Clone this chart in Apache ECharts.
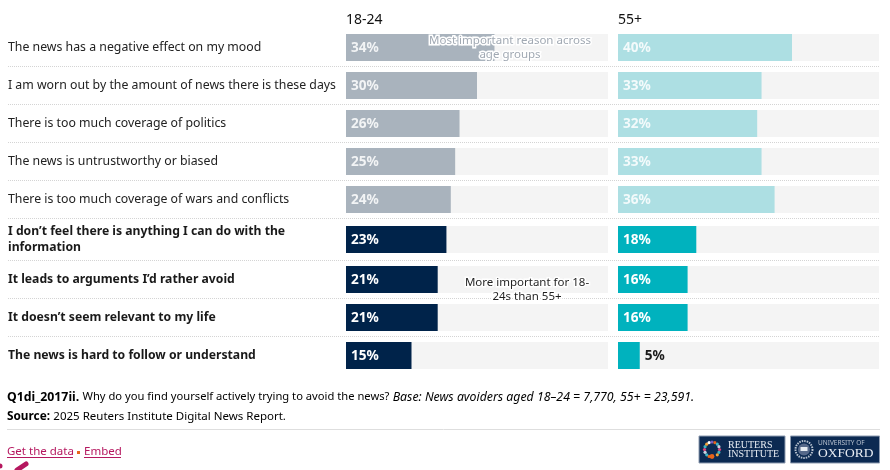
<!DOCTYPE html>
<html>
<head>
<meta charset="utf-8">
<style>html,body{margin:0;padding:0;background:#fff}#c{width:890px;height:470px}</style>
<script src="https://cdn.jsdelivr.net/npm/echarts@6/dist/echarts.min.js"></script>
</head>
<body>
<div id="c"></div>
<script>
const categories = [
  "The news has a negative effect on my mood",
  "I am worn out by the amount of news there is these days",
  "There is too much coverage of politics",
  "The news is untrustworthy or biased",
  "There is too much coverage of wars and conflicts",
  "I don’t feel there is anything I can do with the information",
  "It leads to arguments I’d rather avoid",
  "It doesn’t seem relevant to my life",
  "The news is hard to follow or understand"
];
const young = [34, 30, 26, 25, 24, 23, 21, 21, 15];
const old = [40, 33, 32, 33, 36, 18, 16, 16, 5];
const panelTitles = ["18-24", "55+"];
const axisMax = 60;

const FONT = '"Noto Sans", sans-serif';
const chart = echarts.init(document.getElementById('c'), null, {renderer: 'canvas'});

const blocks = [
  {top: 28.5, height: 190, from: 0, to: 5, strong: false},
  {top: 226, height: 27, from: 5, to: 6, strong: true},
  {top: 260.5, height: 114, from: 6, to: 9, strong: true}
];
const panels = [
  {left: 346, width: 262, values: young, faint: '#a9b3bd', solid: '#00234a', labels: true},
  {left: 618, width: 261, values: old, faint: '#addfe3', solid: '#00b2be', labels: false}
];

const grid = [], xAxis = [], yAxis = [], series = [];
panels.forEach(p => blocks.forEach(b => {
  const i = grid.length;
  grid.push({left: p.left, width: p.width, top: b.top, height: b.height, containLabel: false});
  xAxis.push({type: 'value', gridIndex: i, min: 0, max: axisMax, show: false});
  yAxis.push({
    type: 'category', gridIndex: i, inverse: true,
    data: categories.slice(b.from, b.to),
    axisLine: {show: false}, axisTick: {show: false}, splitLine: {show: false},
    axisLabel: {
      show: p.labels, interval: 0, align: 'left', margin: 338,
      lineHeight: 16, padding: [4, 0, 0, 0],
      formatter: v => v.replace(' with the information', ' with the\ninformation'),
      color: b.strong ? '#1a1a1a' : '#222',
      fontFamily: FONT, fontSize: b.strong ? 12.2 : 12.3, fontWeight: b.strong ? 700 : 400
    }
  });
  series.push({
    type: 'bar', xAxisIndex: i, yAxisIndex: i, barWidth: 27, silent: true,
    showBackground: true, backgroundStyle: {color: '#f4f4f4'},
    itemStyle: {color: b.strong ? p.solid : p.faint},
    data: p.values.slice(b.from, b.to).map(v => ({
      value: v,
      label: v < 10
        ? {position: 'right', distance: 5, color: '#1a1a1a'}
        : {position: 'insideLeft', distance: 5, color: b.strong ? '#fff' : 'rgba(255,255,255,0.85)'}
    })),
    label: {show: true, formatter: '{c}%', fontFamily: FONT, fontSize: 13.6, fontWeight: 700, offset: [0, 1]},
    animation: false
  });
}));

const g = [];
[66.5, 104.5, 142.5, 180.5, 218.5, 260.5, 298.5, 336.5].forEach(y => g.push({
  type: 'line', z: 1, shape: {x1: 8, y1: y, x2: 879, y2: y},
  style: {stroke: '#d4d4d4', lineWidth: 1, lineDash: [1, 1]}
}));
panels.forEach((p, i) => g.push({
  type: 'text', z: 10, x: p.left, y: 20,
  style: {text: panelTitles[i], font: '14px ' + FONT, fill: '#111', verticalAlign: 'middle'}
}));
[['Most important reason across', 510, 41, '#a1a9b3'], ['age groups', 510, 55, '#a1a9b3'],
 ['More important for 18-', 527, 283, '#1f1f1f'], ['24s than 55+', 527, 297, '#1f1f1f']].forEach(a => g.push({
  type: 'text', z: 50, x: a[1], y: a[2],
  style: {text: a[0], font: '11.5px ' + FONT, fill: a[3], align: 'center', verticalAlign: 'middle',
          stroke: '#fff', lineWidth: 3}
}));

const rich = {
  b: {fontFamily: FONT, fontSize: 12.3, fontWeight: 700, color: '#222'},
  c: {fontFamily: FONT, fontSize: 11.8, fontWeight: 700, color: '#222'},
  n: {fontFamily: FONT, fontSize: 11.2, color: '#444'},
  s: {fontFamily: FONT, fontSize: 11.5, color: '#444'},
  i: {fontFamily: FONT, fontSize: 12.3, fontStyle: 'italic', color: '#444'}
};
g.push({type: 'text', z: 10, x: 7, y: 397, style: {
  text: '{b|Q1di_2017ii.} {n|Why do you find yourself actively trying to avoid the news?} {i|Base: News avoiders aged 18–24 = 7,770, 55+ = 23,591.}',
  rich, verticalAlign: 'middle'}});
g.push({type: 'text', z: 10, x: 7, y: 417, style: {
  text: '{c|Source:} {s|2025 Reuters Institute Digital News Report.}', rich, verticalAlign: 'middle'}});
g.push({type: 'line', z: 1, shape: {x1: 7, y1: 429.5, x2: 880, y2: 429.5}, style: {stroke: '#dedede', lineWidth: 1}});

const linkColor = '#b5175f';
g.push({type: 'text', z: 10, x: 7, y: 452, style: {text: 'Get the data', font: '11.5px ' + FONT, fill: linkColor, verticalAlign: 'middle'}});
g.push({type: 'text', z: 10, x: 84, y: 452, style: {text: 'Embed', font: '11.5px ' + FONT, fill: linkColor, verticalAlign: 'middle'}});
g.push({type: 'line', z: 10, shape: {x1: 7, y1: 457.5, x2: 73, y2: 457.5}, style: {stroke: linkColor, lineWidth: 1}});
g.push({type: 'line', z: 10, shape: {x1: 84, y1: 457.5, x2: 121, y2: 457.5}, style: {stroke: linkColor, lineWidth: 1}});
g.push({type: 'rect', z: 10, shape: {x: 77, y: 451, width: 3, height: 3}, style: {fill: '#e8641b'}});
g.push({type: 'line', z: 10, shape: {x1: 17, y1: 470, x2: 26, y2: 464}, style: {stroke: linkColor, lineWidth: 5, lineCap: 'round'}});
g.push({type: 'circle', z: 10, shape: {cx: 0, cy: 466, r: 2.5}, style: {fill: linkColor}});

// logos
const navy = '#0c2a52', serif = '"Liberation Serif", serif';
g.push({type: 'rect', z: 10, shape: {x: 699, y: 436, width: 86, height: 27}, style: {fill: navy, stroke: '#8d9bb0', lineWidth: 1}});
g.push({type: 'rect', z: 10, shape: {x: 790.5, y: 436, width: 89, height: 27}, style: {fill: navy, stroke: '#8d9bb0', lineWidth: 1}});
const ringColors = ['#e0457b', '#3fb6c4', '#f2a33a', '#ffffff', '#7a5cc0', '#e8641b', '#3fb6c4', '#c9d3e0'];
for (let k = 0; k < 16; k++) {
  if (k === 3 || k === 4) continue;
  const a = k / 16 * Math.PI * 2;
  g.push({type: 'circle', z: 11, shape: {cx: 712 + 7.5 * Math.cos(a), cy: 449.5 + 7.5 * Math.sin(a), r: 1.6},
          style: {fill: ringColors[k % ringColors.length]}});
}
g.push({type: 'circle', z: 11, shape: {cx: 712, cy: 456.5, r: 2.4}, style: {fill: '#e8641b'}});
g.push({type: 'text', z: 12, x: 728, y: 445, style: {text: 'REUTERS', font: '10px ' + serif, fill: '#e8edf3', verticalAlign: 'middle'}});
g.push({type: 'text', z: 12, x: 728, y: 454.5, style: {text: 'INSTITUTE', font: '10px ' + serif, fill: '#e8edf3', verticalAlign: 'middle'}});
g.push({type: 'circle', z: 11, shape: {cx: 804, cy: 449.5, r: 8.5}, style: {fill: 'none', stroke: '#b9c3d0', lineWidth: 2, lineDash: [1.5, 1]}});
g.push({type: 'circle', z: 11, shape: {cx: 804, cy: 449.5, r: 6}, style: {fill: '#56698a'}});
g.push({type: 'rect', z: 12, shape: {x: 800.5, y: 447, width: 7, height: 4}, style: {fill: '#e8edf3'}});
g.push({type: 'text', z: 12, x: 818, y: 443, style: {text: 'UNIVERSITY OF', font: '6.5px "Noto Sans", sans-serif', fill: '#b9c3d0', verticalAlign: 'middle'}});
g.push({type: 'text', z: 12, x: 818, y: 453.5, style: {text: 'OXFORD', font: '13.5px ' + serif, fill: '#e8edf3', verticalAlign: 'middle'}});

chart.setOption({
  animation: false,
  backgroundColor: '#fff',
  textStyle: {fontFamily: FONT},
  grid, xAxis, yAxis, series,
  graphic: {elements: g}
});
</script>
</body>
</html>
